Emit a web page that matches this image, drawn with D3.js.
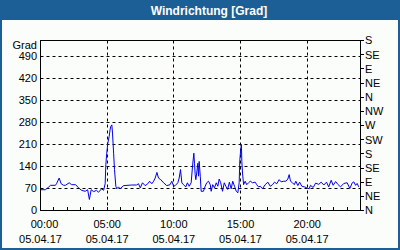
<!DOCTYPE html>
<html>
<head>
<meta charset="utf-8">
<title>Windrichtung</title>
<script src="https://d3js.org/d3.v7.min.js"></script>
<style>
	body { margin: 0; background: #fff; }
	text { font-family: "Liberation Sans", Arial, sans-serif; font-size: 11px; fill: #000; }
</style>
</head>
<body>
<div id="chart"></div>
<script>
	// minutes after midnight, 05.04.17
	var minutes = [0,22,36,45,67,72,84,93,104,112,129,140,158,171,185,201,212,220,228,239,252,261,275,284,
		291,294,298,303,309,313,316,321,324,329,333,339,343,351,358,374,410,432,441,449,459,471,483,491,501,
		509,516,524,531,541,554,568,583,591,599,606,618,624,630,636,643,654,661,669,678,684,690,693,696,699,
		703,708,711,714,719,723,733,741,748,756,764,768,775,783,791,798,804,811,819,827,834,842,850,858,865,
		873,881,888,894,897,901,904,906,909,914,921,928,936,944,954,966,973,981,989,999,1011,1023,1034,1044,
		1053,1063,1074,1083,1094,1104,1113,1119,1125,1134,1142,1149,1158,1166,1176,1188,1198,1209,1215,1227,
		1238,1252,1263,1275,1287,1297,1308,1317,1328,1338,1350,1365,1380,1392,1403,1410,1418,1425,1432];
	// wind direction in degrees
	var grad = [66,66,74,80,80,85,103,85,80,80,88,82,82,72,64,61,66,35,66,60,64,58,69,64,
		85,145,182,214,235,256,267,272,246,182,130,77,69,75,69,79,81,81,85,72,88,79,85,93,85,
		93,103,121,103,98,88,79,82,93,77,79,88,103,130,88,82,75,88,77,88,140,182,150,114,98,
		119,150,109,156,109,61,61,77,88,93,82,61,82,72,88,77,100,88,61,88,77,67,90,69,93,
		77,61,56,88,161,193,209,156,119,82,93,82,88,93,88,90,82,75,77,69,82,90,77,82,
		90,85,98,91,93,93,100,114,93,88,82,93,79,90,77,75,72,69,80,73,
		87,83,90,81,90,75,96,80,92,83,75,86,88,70,88,91,80,86,75];

	var gradTicks = [0,70,140,210,280,350,420,490];
	var compassTicks = [0,45,90,135,180,225,270,315,360,405,450,495,540];
	var compassLabels = ["N","NE","E","SE","S","SW","W","NW","N","NE","E","SE","S"];
	var hourTicks = [0,5,10,15,20];
	var dateLabel = "05.04.17";

	var w = 400, h = 250;
	var blue = "#1c5f96";

	var svg = d3.select("#chart").append("svg")
		.attr("width", w)
		.attr("height", h);

	// frame and title bar
	svg.append("rect").attr("width", w).attr("height", h).attr("fill", blue);
	svg.append("rect").attr("x", 2).attr("y", 20).attr("width", w - 4).attr("height", h - 22).attr("fill", "#fbfdfb");
	svg.append("text")
		.attr("x", 209).attr("y", 15)
		.attr("text-anchor", "middle")
		.style("fill", "#fff").style("font-weight", "bold").style("font-size", "12px")
		.text("Windrichtung [Grad]");

	var x = d3.scaleLinear().domain([0, 1440]).range([40.5, 360.5]);
	var y = d3.scaleLinear().domain([0, 540]).range([210.5, 40.5]);
	function px(v) { return Math.round(v - 0.5) + 0.5; }

	// grid
	svg.selectAll(".hgrid").data(gradTicks.slice(1)).enter().append("line")
		.attr("x1", 40.5).attr("x2", 360.5)
		.attr("y1", function(d) { return px(y(d)); })
		.attr("y2", function(d) { return px(y(d)); })
		.attr("stroke", "#000").attr("stroke-dasharray", "3,3");
	svg.selectAll(".vgrid").data(hourTicks.slice(1)).enter().append("line")
		.attr("y1", 40.5).attr("y2", 210.5)
		.attr("x1", function(d) { return px(x(d * 60)); })
		.attr("x2", function(d) { return px(x(d * 60)); })
		.attr("stroke", "#000").attr("stroke-dasharray", "3,3");

	// hourly ticks on bottom axis, pointing inward
	svg.selectAll(".htick").data(d3.range(1, 24)).enter().append("line")
		.attr("y1", 210.5).attr("y2", 207)
		.attr("x1", function(d) { return px(x(d * 60)); })
		.attr("x2", function(d) { return px(x(d * 60)); })
		.attr("stroke", "#000");

	// right compass ticks
	svg.selectAll(".ctick").data(compassTicks).enter().append("line")
		.attr("x1", 360.5).attr("x2", 364)
		.attr("y1", function(d) { return px(y(d)); })
		.attr("y2", function(d) { return px(y(d)); })
		.attr("stroke", "#000");

	// data line
	var line = d3.line()
		.x(function(d, i) { return x(minutes[i]); })
		.y(function(d) { return y(d); });
	svg.append("path").datum(grad)
		.attr("d", line)
		.attr("fill", "none")
		.attr("stroke", "#0000f0")
		.attr("stroke-width", 1);

	// plot border
	svg.append("rect")
		.attr("x", 40.5).attr("y", 40.5).attr("width", 320).attr("height", 170)
		.attr("fill", "none").attr("stroke", "#000");

	// left labels
	svg.selectAll(".ylab").data(gradTicks).enter().append("text")
		.attr("x", 37)
		.attr("y", function(d) { return y(d); })
		.attr("dy", "0.35em")
		.attr("text-anchor", "end")
		.text(function(d) { return d; });
	svg.append("text").attr("x", 37).attr("y", 49).attr("text-anchor", "end").text("Grad");

	// right labels
	svg.selectAll(".clab").data(compassTicks).enter().append("text")
		.attr("x", 365)
		.attr("y", function(d) { return y(d); })
		.attr("dy", "0.35em")
		.text(function(d, i) { return compassLabels[i]; });

	// bottom labels
	var hl = svg.selectAll(".xlab").data(hourTicks).enter().append("g");
	hl.append("text")
		.attr("x", function(d) { return x(d * 60) + (d === 0 ? 4 : 0); })
		.attr("y", 228)
		.attr("text-anchor", "middle")
		.text(function(d) { return (d < 10 ? "0" : "") + d + ":00"; });
	hl.append("text")
		.attr("x", function(d) { return Math.max(x(d * 60), 30); })
		.attr("y", 243)
		.attr("text-anchor", "middle")
		.text(dateLabel);
</script>
</body>
</html>
